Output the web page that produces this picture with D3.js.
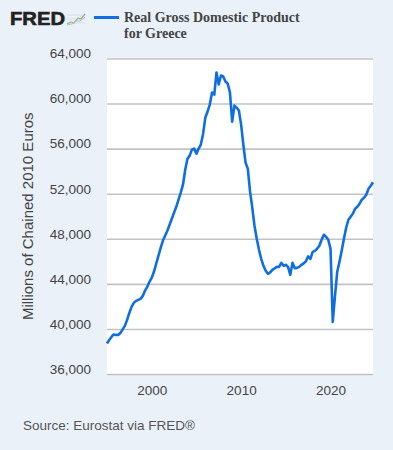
<!DOCTYPE html>
<html>
<head>
<meta charset="utf-8">
<script src="https://cdn.jsdelivr.net/npm/d3@7"></script>
<style>
  html, body { margin: 0; padding: 0; background: #eaf1f9; }
  svg { display: block; }
  text { font-family: "Liberation Sans", Arial, sans-serif; }
</style>
</head>
<body>
<svg id="chart"></svg>
<script>
const width = 393;
const height = 450;

// quarterly series, 1995 Q1 .. 2024 Q4 (millions of chained 2010 euros)
const firstYear = 1995;
const gdp = [
  38710, 39020, 39290, 39510, 39470, 39470, 39640, 39960,
  40270, 40800, 41420, 41960, 42310, 42490, 42580, 42670,
  42930, 43380, 43730, 44180, 44530, 45070, 45780, 46490,
  47200, 47820, 48270, 48710, 49240, 49780, 50310, 50840,
  51470, 52090, 52800, 54130, 55110, 55380, 55910, 56000,
  55560, 56000, 56360, 57330, 58760, 59290, 59910, 60980,
  60800, 62760, 61690, 62490, 62400, 61960, 61780, 60980,
  58400, 59820, 59640, 59380, 58130, 56360, 54760, 54220,
  52180, 50760, 49160, 48000, 47020, 46220, 45600, 45160,
  44890, 45020, 45240, 45380, 45510, 45510, 45870, 45600,
  45690, 45510, 44800, 45870, 45380, 45420, 45510, 45690,
  45820, 46000, 46440, 46220, 46840, 46930, 47110, 47380,
  47910, 48360, 48180, 47910, 47110, 40620, 42930, 45070,
  45960, 46930, 48000, 48980, 49690, 49960, 50220, 50670,
  50840, 51110, 51470, 51640, 51910, 52440, 52710, 53020
];
const yTicks = [36000, 40000, 44000, 48000, 52000, 56000, 60000, 64000];
const xTickYears = [2000, 2010, 2020];

const seriesTitle = ['Real Gross Domestic Product', 'for Greece'];
const yTitle = 'Millions of Chained 2010 Euros';
const sourceText = 'Source: Eurostat via FRED\u00AE';

// quarter start dates
const points = gdp.map((v, i) => ({
  date: d3.timeMonth.offset(new Date(firstYear, 0, 1), i * 3),
  value: v
}));

const plot = { left: 107, right: 373, top: 58.5, bottom: 374 };

const svg = d3.select('#chart')
  .attr('width', width)
  .attr('height', height);

const x = d3.scaleTime()
  .domain(d3.extent(points, d => d.date))
  .range([plot.left, plot.right]);

const y = d3.scaleLinear()
  .domain([36000, 64000])
  .range([plot.bottom, plot.top]);

// plot background
svg.append('rect')
  .attr('x', plot.left)
  .attr('y', plot.top)
  .attr('width', plot.right - plot.left)
  .attr('height', plot.bottom - plot.top)
  .attr('fill', '#ffffff');

// y axis + gridlines
const yAxis = svg.append('g')
  .attr('transform', `translate(${plot.left},0)`)
  .call(d3.axisLeft(y)
    .tickValues(yTicks)
    .tickSize(-(plot.right - plot.left))
    .tickPadding(16)
    .tickFormat(d3.format(',')));
yAxis.select('.domain').remove();
yAxis.selectAll('.tick line')
  .attr('stroke', '#c3c3c3')
  .attr('stroke-width', 1.6);
yAxis.selectAll('.tick text')
  .attr('fill', '#444')
  .attr('font-size', '13.5px')
  .attr('dy', '-0.05em');

// x axis
const xAxis = svg.append('g')
  .attr('transform', `translate(0,${plot.bottom})`)
  .call(d3.axisBottom(x)
    .tickValues(xTickYears.map(yr => new Date(yr, 0, 1)))
    .tickSize(0)
    .tickPadding(11)
    .tickFormat(d3.timeFormat('%Y')));
xAxis.select('.domain').remove();
xAxis.selectAll('.tick text')
  .attr('fill', '#444')
  .attr('font-size', '13.5px');

// series line
const line = d3.line()
  .x(d => x(d.date))
  .y(d => y(d.value));

svg.append('path')
  .datum(points)
  .attr('fill', 'none')
  .attr('stroke', '#0f6fe0')
  .attr('stroke-width', 2.6)
  .attr('stroke-linejoin', 'round')
  .attr('d', line);

// y title
svg.append('text')
  .attr('transform', `translate(33,${(plot.top + plot.bottom) / 2}) rotate(-90)`)
  .attr('text-anchor', 'middle')
  .attr('fill', '#444')
  .attr('font-size', '15px')
  .text(yTitle);

// source
svg.append('text')
  .attr('x', 23)
  .attr('y', 430)
  .attr('fill', '#555')
  .attr('font-size', '13.5px')
  .text(sourceText);

// header: FRED logo
const logo = svg.append('g');
logo.append('text')
  .attr('x', 10)
  .attr('y', 25)
  .attr('font-size', '19px')
  .attr('font-weight', 'bold')
  .attr('fill', '#222')
  .attr('stroke', '#222')
  .attr('stroke-width', 0.6)
  .attr('textLength', 55)
  .attr('lengthAdjust', 'spacingAndGlyphs')
  .text('FRED');
// little chart icon
const icon = logo.append('g').attr('transform', 'translate(67,12)');
[3, 7, 11].forEach(gy => {
  icon.append('line')
    .attr('x1', 0).attr('x2', 18)
    .attr('y1', gy).attr('y2', gy)
    .attr('stroke', '#d6dbe0').attr('stroke-width', 0.8);
});
icon.append('polyline')
  .attr('points', '0,12 4,10 7,11 11,6 14,7 18,2')
  .attr('fill', 'none')
  .attr('stroke', '#9fb889')
  .attr('stroke-width', 1.3);
icon.append('polyline')
  .attr('points', '0,13 5,12 9,9 13,9 18,5')
  .attr('fill', 'none')
  .attr('stroke', '#b8bec4')
  .attr('stroke-width', 1);

// legend
svg.append('line')
  .attr('x1', 94).attr('x2', 119)
  .attr('y1', 17.5).attr('y2', 17.5)
  .attr('stroke', '#0f6fe0')
  .attr('stroke-width', 3);

svg.append('text')
  .attr('x', 124)
  .attr('y', 22)
  .attr('fill', '#444')
  .style('font-family', '"Liberation Serif", "Times New Roman", serif')
  .attr('font-weight', 'bold')
  .attr('font-size', '14px')
  .selectAll('tspan')
  .data(seriesTitle)
  .enter()
  .append('tspan')
  .attr('x', 124)
  .attr('dy', (d, i) => i === 0 ? 0 : 16)
  .text(d => d);
</script>
</body>
</html>
